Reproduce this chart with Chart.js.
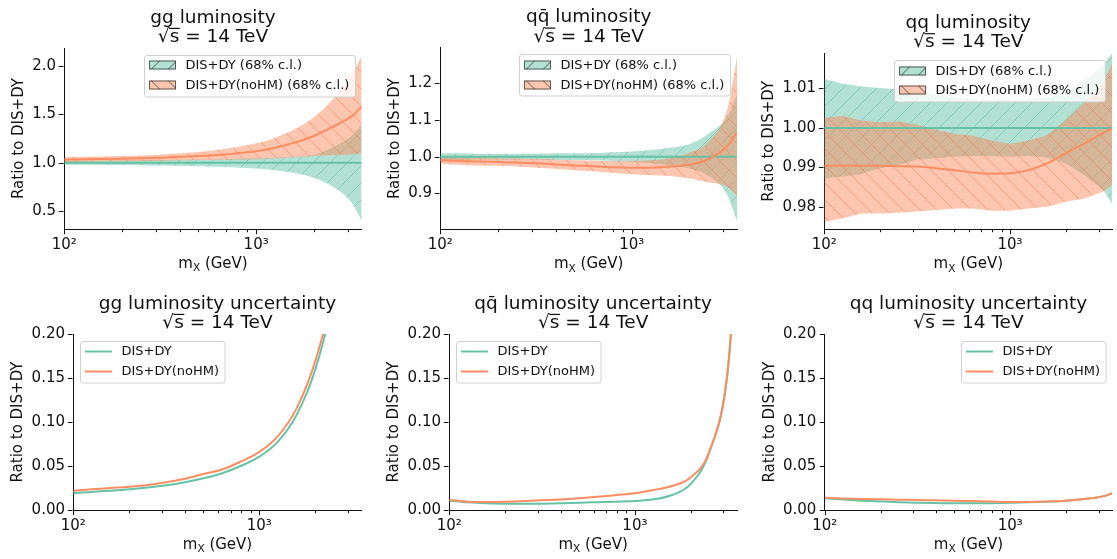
<!DOCTYPE html>
<html>
<head>
<meta charset="utf-8">
<script src="https://cdn.jsdelivr.net/npm/chart.js@4/dist/chart.umd.min.js"></script>
<style>
  body { margin: 0; background: #fff; }
  #fig { position: relative; width: 1117px; height: 559px; }
  #fig canvas { position: absolute; }
</style>
</head>
<body>
<div id="fig">
  <canvas id="gg" width="372" height="280" style="left:0;top:0;width:372px;height:280px"></canvas>
  <canvas id="qqb" width="372" height="280" style="left:372px;top:0;width:372px;height:280px"></canvas>
  <canvas id="qq" width="373" height="280" style="left:744px;top:0;width:373px;height:280px"></canvas>
  <canvas id="ggErr" width="372" height="279" style="left:0;top:280px;width:372px;height:279px"></canvas>
  <canvas id="qqbErr" width="372" height="279" style="left:372px;top:280px;width:372px;height:279px"></canvas>
  <canvas id="qqErr" width="373" height="279" style="left:744px;top:280px;width:373px;height:279px"></canvas>
</div>
<script>
// invariant mass grid (GeV)
const mX = [100, 126, 158, 200, 251, 316, 398, 501, 631, 794, 1000, 1259, 1585, 1995, 2512, 3162, 3550];
const mXmax = 3550;

// ratio of DIS+DY to itself
const refRatio = [1, 1, 1, 1, 1, 1, 1, 1, 1, 1, 1, 1, 1, 1, 1, 1, 1];

// gg luminosity
const ggRefUp   = [1.019, 1.020, 1.021, 1.023, 1.025, 1.027, 1.030, 1.033, 1.036, 1.040, 1.045, 1.052, 1.062, 1.080, 1.160, 1.280, 1.400];
const ggRefLo   = [0.979, 0.978, 0.977, 0.976, 0.974, 0.971, 0.968, 0.963, 0.958, 0.950, 0.940, 0.922, 0.892, 0.843, 0.750, 0.580, 0.400];
const ggNoHM    = [1.031, 1.035, 1.038, 1.041, 1.046, 1.052, 1.060, 1.068, 1.079, 1.097, 1.117, 1.155, 1.207, 1.276, 1.372, 1.483, 1.580];
const ggNoHMUp  = [1.055, 1.060, 1.064, 1.069, 1.075, 1.083, 1.095, 1.110, 1.131, 1.162, 1.200, 1.259, 1.345, 1.466, 1.655, 1.914, 2.100];
const ggNoHMLo  = [1.006, 1.009, 1.012, 1.014, 1.017, 1.020, 1.024, 1.027, 1.030, 1.033, 1.036, 1.045, 1.055, 1.070, 1.080, 1.085, 1.095];

// q qbar luminosity
const qqbRefUp  = [1.009, 1.009, 1.008, 1.008, 1.008, 1.008, 1.009, 1.009, 1.010, 1.012, 1.014, 1.018, 1.024, 1.034, 1.062, 1.110, 1.170];
const qqbRefLo  = [0.991, 0.991, 0.992, 0.992, 0.992, 0.992, 0.991, 0.991, 0.990, 0.988, 0.986, 0.982, 0.976, 0.968, 0.948, 0.895, 0.825];
const qqbNoHM   = [0.990, 0.988, 0.987, 0.9855, 0.984, 0.982, 0.979, 0.976, 0.974, 0.971, 0.970, 0.970, 0.973, 0.978, 0.993, 1.029, 1.067];
const qqbNoHMUp = [0.999, 0.998, 0.997, 0.996, 0.995, 0.994, 0.992, 0.990, 0.989, 0.988, 0.988, 0.990, 0.996, 1.010, 1.040, 1.130, 1.270];
const qqbNoHMLo = [0.981, 0.978, 0.976, 0.975, 0.973, 0.970, 0.967, 0.963, 0.960, 0.956, 0.952, 0.949, 0.947, 0.941, 0.930, 0.918, 0.895];

// qq luminosity
const qqRefUp   = [1.0124, 1.0112, 1.0105, 1.0101, 1.0098, 1.0092, 1.0084, 1.0076, 1.0072, 1.0071, 1.0072, 1.0072, 1.0076, 1.0090, 1.0120, 1.0157, 1.0190];
const qqRefLo   = [0.9872, 0.9877, 0.9883, 0.9898, 0.9906, 0.9919, 0.9923, 0.9927, 0.9929, 0.9929, 0.9927, 0.9929, 0.9925, 0.9910, 0.9880, 0.9843, 0.9808];
const qqNoHM    = [0.9904, 0.9904, 0.9904, 0.9904, 0.9903, 0.9902, 0.9898, 0.9893, 0.9887, 0.9884, 0.9885, 0.9893, 0.9910, 0.9936, 0.9961, 0.9987, 0.9999];
const qqNoHMUp  = [1.0025, 1.0030, 1.0019, 1.0014, 1.0016, 1.0008, 0.9995, 0.9985, 0.9980, 0.9968, 0.9959, 0.9968, 0.9982, 1.0020, 1.0063, 1.0113, 1.0166];
const qqNoHMLo  = [0.9762, 0.9771, 0.9783, 0.9783, 0.9785, 0.9788, 0.9792, 0.9796, 0.9796, 0.9790, 0.9790, 0.9796, 0.9800, 0.9813, 0.9821, 0.9838, 0.9855];

// relative uncertainties
const ggErrRef    = [0.019, 0.0205, 0.022, 0.0235, 0.0255, 0.028, 0.0315, 0.036, 0.0417, 0.050, 0.0606, 0.0777, 0.108, 0.159, 0.245, 0.40, 0.50];
const ggErrNoHM   = [0.022, 0.0235, 0.025, 0.0265, 0.0285, 0.0315, 0.0355, 0.041, 0.046, 0.055, 0.066, 0.084, 0.1155, 0.1686, 0.255, 0.41, 0.51];
const qqbErrRef   = [0.0106, 0.0087, 0.0076, 0.0072, 0.0071, 0.0072, 0.0076, 0.0083, 0.0089, 0.0095, 0.0102, 0.0121, 0.017, 0.0295, 0.065, 0.157, 0.30];
const qqbErrNoHM  = [0.0114, 0.0095, 0.0091, 0.0095, 0.0102, 0.011, 0.012, 0.0133, 0.015, 0.017, 0.019, 0.0227, 0.0273, 0.037, 0.066, 0.158, 0.30];
const qqErrRef    = [0.0133, 0.0118, 0.0106, 0.0097, 0.0089, 0.0083, 0.0079, 0.0076, 0.0076, 0.0078, 0.0082, 0.0087, 0.0095, 0.0106, 0.0125, 0.0155, 0.019];
const qqErrNoHM   = [0.014, 0.0132, 0.0126, 0.0121, 0.0117, 0.0114, 0.011, 0.0106, 0.0101, 0.0096, 0.0092, 0.0092, 0.0096, 0.0106, 0.0125, 0.0155, 0.019];

// axis ticks
const xTicks = [100, 200, 300, 400, 500, 600, 700, 800, 900, 1000, 2000, 3000];
const xTickLabels = ['10²', '', '', '', '', '', '', '', '', '10³', '', ''];
const ggTicks = [0.5, 1.0, 1.5, 2.0];
const ggTickLabels = ['0.5', '1.0', '1.5', '2.0'];
const qqbTicks = [0.9, 1.0, 1.1, 1.2];
const qqbTickLabels = ['0.9', '1.0', '1.1', '1.2'];
const qqTicks = [0.98, 0.99, 1.00, 1.01];
const qqTickLabels = ['0.98', '0.99', '1.00', '1.01'];
const errTicks = [0, 0.05, 0.10, 0.15, 0.20];
const errTickLabels = ['0.00', '0.05', '0.10', '0.15', '0.20'];

const refName = 'DIS+DY', noHMName = 'DIS+DY(noHM)';

const FONT = 'DejaVu Sans';
const INK = '#111111';
const TEAL = '#66c2a5', ORANGE = '#fc8d62';
const TEAL_FILL = 'rgba(102,194,165,0.5)', ORANGE_FILL = 'rgba(252,141,98,0.5)';

const pts = ys => mX.map((x, i) => ({x: x, y: ys[i]}));

function hatch(ctx, fill, stroke, dir) {
  const s = 17, c = document.createElement('canvas');
  c.width = c.height = s;
  const g = c.getContext('2d');
  g.fillStyle = fill;
  g.fillRect(0, 0, s, s);
  g.strokeStyle = stroke;
  g.lineWidth = 1;
  g.beginPath();
  if (dir === '/') {
    g.moveTo(0, s); g.lineTo(s, 0);
    g.moveTo(-3, 3); g.lineTo(3, -3);
    g.moveTo(s - 3, s + 3); g.lineTo(s + 3, s - 3);
  } else {
    g.moveTo(0, 0); g.lineTo(s, s);
    g.moveTo(-3, s - 3); g.lineTo(3, s + 3);
    g.moveTo(s - 3, -3); g.lineTo(s + 3, 3);
  }
  g.stroke();
  return ctx.createPattern(c, 'repeat');
}

function lineSet(label, ys, color, mode) {
  return {label: label, data: pts(ys), borderColor: color, borderWidth: 2, pointRadius: 0,
          fill: false, cubicInterpolationMode: mode ? 'monotone' : 'default', tension: 0};
}
function edgeSet(ys, fill, bg, smooth) {
  return {data: pts(ys), borderColor: 'rgba(0,0,0,0)', borderWidth: 0, pointRadius: 0,
          fill: fill, backgroundColor: bg, cubicInterpolationMode: smooth ? 'monotone' : 'default', tension: 0};
}

function decor(p) {
  return {
    id: 'decor',
    afterDraw(chart) {
      const {ctx, chartArea: a, scales: {x, y}} = chart;
      ctx.save();
      // tick marks
      ctx.strokeStyle = INK;
      ctx.lineWidth = 1;
      ctx.beginPath();
      const b = Math.round(a.bottom) + 0.5, l = Math.round(a.left) - 0.5;
      x.ticks.forEach(t => {
        const px = Math.round(x.getPixelForValue(t.value)) + 0.5;
        ctx.moveTo(px, b); ctx.lineTo(px, b + (t.major ? 4.7 : 2.7));
      });
      y.ticks.forEach(t => {
        const py = Math.round(y.getPixelForValue(t.value)) + 0.5;
        ctx.moveTo(l, py); ctx.lineTo(l - 4.7, py);
      });
      ctx.stroke();

      const cx = (a.left + a.right) / 2;
      ctx.fillStyle = INK;
      // title, two lines
      ctx.font = '18.5px "' + FONT + '"';
      ctx.textBaseline = 'alphabetic';
      ctx.textAlign = 'center';
      ctx.fillText(p.title, cx, a.top - 25.5);
      const parts = ['√', 's', ' = 14 TeV'];
      const w = parts.map(s => ctx.measureText(s).width);
      let tx = cx - (w[0] + w[1] + w[2]) / 2;
      const by = a.top - 6;
      ctx.textAlign = 'left';
      parts.forEach((s, i) => {
        ctx.fillText(s, tx, by);
        if (i === 1) ctx.fillRect(tx - 0.5, by - 14.2, w[1] + 1, 1.2);
        tx += w[i];
      });

      // x axis title m_X (GeV)
      ctx.font = '15px "' + FONT + '"';
      const wm = ctx.measureText('m').width, wr = ctx.measureText(' (GeV)').width;
      ctx.font = '10.5px "' + FONT + '"';
      const wx = ctx.measureText('X').width;
      let xx = cx - (wm + wx + wr) / 2;
      const xb = a.bottom + 39;
      ctx.font = '15px "' + FONT + '"';
      ctx.fillText('m', xx, xb);
      ctx.font = '10.5px "' + FONT + '"';
      ctx.fillText('X', xx + wm, xb + 3.2);
      ctx.font = '15px "' + FONT + '"';
      ctx.fillText(' (GeV)', xx + wm + wx, xb);

      // y axis title
      const tw = Math.max(...p.yLabels.map(s => ctx.measureText(s).width));
      ctx.translate(a.left - tw - 21.4, (a.top + a.bottom) / 2);
      ctx.rotate(-Math.PI / 2);
      ctx.textAlign = 'center';
      ctx.textBaseline = 'middle';
      ctx.fillText('Ratio to DIS+DY', 0, 0);
      ctx.setTransform(1, 0, 0, 1, 0, 0);

      // legend
      ctx.font = '13px "' + FONT + '"';
      const lw = Math.max(...p.legend.map(e => ctx.measureText(e.label).width));
      const bw = 5 + 27 + 9.5 + lw + 5.5, bh = 41.5;
      const bx = p.corner === 'ul' ? a.left + 6.5 : a.right - 7 - bw;
      const byy = a.top + 6.5;
      ctx.beginPath();
      ctx.roundRect(Math.round(bx) + 0.5, Math.round(byy) + 0.5, bw, bh, 2.5);
      ctx.fillStyle = 'rgba(255,255,255,0.8)';
      ctx.fill();
      ctx.strokeStyle = '#d0d0d0';
      ctx.stroke();
      p.legend.forEach((e, i) => {
        const ry = Math.round(byy + 10.8 + i * 19.7);
        const sx = Math.round(bx + 5);
        if (e.fill) {
          ctx.save();
          ctx.beginPath();
          ctx.rect(sx, ry - 4.5, 27, 9);
          ctx.fillStyle = e.fill;
          ctx.fill();
          ctx.clip();
          ctx.strokeStyle = 'rgba(50,50,50,0.75)';
          ctx.beginPath();
          for (let k = -1; k < 3; k++) {
            const x0 = sx + 2 + k * 17;
            if (e.dir === '/') { ctx.moveTo(x0, ry + 4.5); ctx.lineTo(x0 + 9, ry - 4.5); }
            else { ctx.moveTo(x0, ry - 4.5); ctx.lineTo(x0 + 9, ry + 4.5); }
          }
          ctx.stroke();
          ctx.restore();
          ctx.strokeStyle = 'rgba(50,50,50,0.75)';
          ctx.strokeRect(sx + 0.5, ry - 4.5 + 0.5, 26, 8);
        } else {
          ctx.beginPath();
          ctx.moveTo(sx, ry + 0.5); ctx.lineTo(sx + 27, ry + 0.5);
          ctx.strokeStyle = e.color;
          ctx.lineWidth = 2;
          ctx.stroke();
          ctx.lineWidth = 1;
        }
        ctx.fillStyle = INK;
        ctx.textAlign = 'left';
        ctx.textBaseline = 'middle';
        ctx.fillText(e.label, sx + 36.5, ry + 0.5);
      });
      ctx.restore();
    }
  };
}

function panel(p) {
  const canvas = document.getElementById(p.id);
  const ctx = canvas.getContext('2d');
  let datasets, legend;
  if (p.band) {
    const tealPat = hatch(ctx, TEAL_FILL, 'rgba(102,194,165,0.6)', '/');
    const orPat = hatch(ctx, ORANGE_FILL, 'rgba(245,130,90,0.6)', '\\');
    datasets = [
      lineSet(noHMName, p.noHM, ORANGE, true),
      lineSet(refName, refRatio, TEAL, true),
      edgeSet(p.noHMUp, '+1', orPat, p.smooth),
      edgeSet(p.noHMLo, false, 'rgba(0,0,0,0)', p.smooth),
      edgeSet(p.refUp, '+1', tealPat, p.smooth),
      edgeSet(p.refLo, false, 'rgba(0,0,0,0)', p.smooth)
    ];
    legend = [
      {label: 'DIS+DY (68% c.l.)', fill: TEAL_FILL, dir: '/'},
      {label: 'DIS+DY(noHM) (68% c.l.)', fill: ORANGE_FILL, dir: '\\'}
    ];
  } else {
    datasets = [
      lineSet(noHMName, p.noHM, ORANGE, true),
      lineSet(refName, p.ref, TEAL, true)
    ];
    legend = [
      {label: refName, color: TEAL},
      {label: noHMName, color: ORANGE}
    ];
  }
  const tickFont = {family: FONT, size: 15};
  new Chart(canvas, {
    type: 'line',
    data: {datasets: datasets},
    options: {
      responsive: false,
      animation: false,
      events: [],
      layout: {padding: {left: 0, top: p.top, right: p.right, bottom: 0}},
      plugins: {legend: {display: false}, tooltip: {enabled: false}, title: {display: false}},
      scales: {
        x: {
          type: 'logarithmic', min: 100, max: mXmax, bounds: 'data',
          afterFit: s => { s.height = p.xh; },
          afterBuildTicks: s => { s.ticks = xTicks.map(v => ({value: v, major: v === 100 || v === 1000})); },
          grid: {display: false, drawTicks: false},
          border: {display: true, color: INK, width: 1},
          ticks: {autoSkip: false, maxRotation: 0, padding: 7, color: INK, font: tickFont,
                  callback: (v, i) => xTickLabels[i]}
        },
        y: {
          type: 'linear', min: p.yMin, max: p.yMax, bounds: 'data',
          afterFit: s => { s.width = p.left; },
          afterBuildTicks: s => { s.ticks = p.yTicks.map(v => ({value: v})); },
          grid: {display: false, drawTicks: false},
          border: {display: true, color: INK, width: 1},
          ticks: {autoSkip: false, padding: 8.3, color: INK, font: tickFont,
                  callback: (v, i) => p.yLabels[i]}
        }
      }
    },
    plugins: [decor({title: p.title, yLabels: p.yLabels, legend: legend, corner: p.corner})]
  });
}

panel({id: 'gg', band: true, smooth: true, title: 'gg luminosity',
  refUp: ggRefUp, refLo: ggRefLo, noHM: ggNoHM, noHMUp: ggNoHMUp, noHMLo: ggNoHMLo,
  yMin: 0.314, yMax: 2.186, yTicks: ggTicks, yLabels: ggTickLabels,
  left: 64.3, top: 48, right: 10.3, xh: 51, corner: 'ur'});
panel({id: 'qqb', band: true, smooth: true, title: 'qq\u0304 luminosity',
  refUp: qqbRefUp, refLo: qqbRefLo, noHM: qqbNoHM, noHMUp: qqbNoHMUp, noHMLo: qqbNoHMLo,
  yMin: 0.802, yMax: 1.297, yTicks: qqbTicks, yLabels: qqbTickLabels,
  left: 68.3, top: 47.7, right: 7, xh: 50.7, corner: 'ur'});
panel({id: 'qq', band: true, smooth: false, title: 'qq luminosity',
  refUp: qqRefUp, refLo: qqRefLo, noHM: qqNoHM, noHMUp: qqNoHMUp, noHMLo: qqNoHMLo,
  yMin: 0.9743, yMax: 1.0189, yTicks: qqTicks, yLabels: qqTickLabels,
  left: 80.3, top: 53.3, right: 4.7, xh: 50.7, corner: 'ur'});
panel({id: 'ggErr', band: false, title: 'gg luminosity uncertainty',
  ref: ggErrRef, noHM: ggErrNoHM,
  yMin: 0, yMax: 0.2, yTicks: errTicks, yLabels: errTickLabels,
  left: 73.3, top: 54, right: 10.3, xh: 49, corner: 'ul'});
panel({id: 'qqbErr', band: false, title: 'qq\u0304 luminosity uncertainty',
  ref: qqbErrRef, noHM: qqbErrNoHM,
  yMin: 0, yMax: 0.2, yTicks: errTicks, yLabels: errTickLabels,
  left: 77.3, top: 54, right: 7, xh: 49, corner: 'ul'});
panel({id: 'qqErr', band: false, title: 'qq luminosity uncertainty',
  ref: qqErrRef, noHM: qqErrNoHM,
  yMin: 0, yMax: 0.2, yTicks: errTicks, yLabels: errTickLabels,
  left: 80.7, top: 54, right: 4.7, xh: 49, corner: 'ur'});
</script>
</body>
</html>
